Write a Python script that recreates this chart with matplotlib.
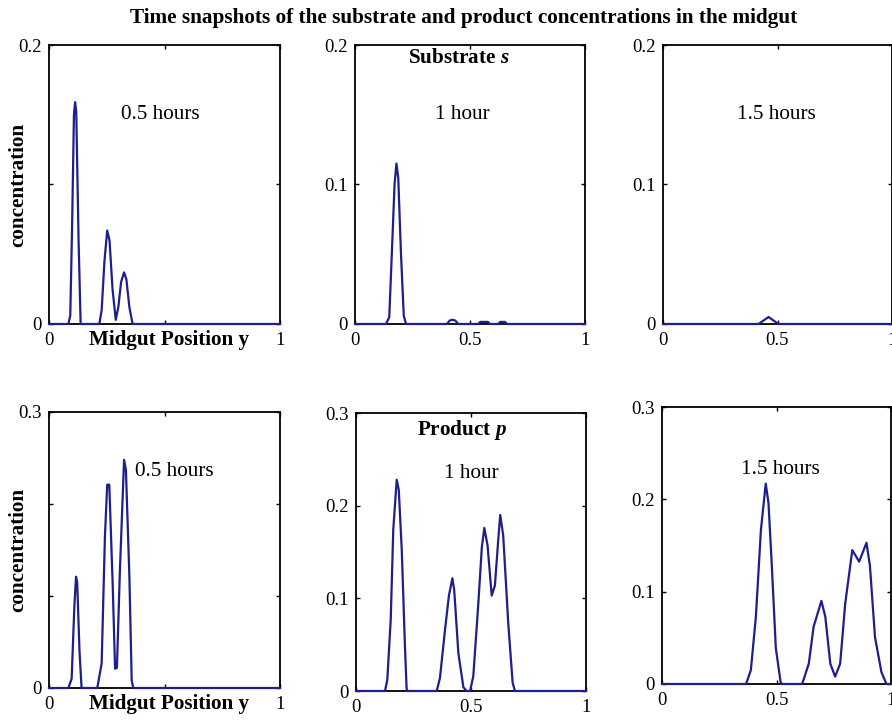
import matplotlib

matplotlib.use("Agg")

import matplotlib.pyplot as plt

plt.rcParams["font.family"] = ["Liberation Serif", "DejaVu Serif"]
plt.rcParams["mathtext.fontset"] = "custom"
plt.rcParams["mathtext.rm"] = "Liberation Serif:bold"
plt.rcParams["mathtext.it"] = "Liberation Serif:italic:bold"

LINE_COLOR = "#1e1e8c"

# substrate s, 0.5 / 1 / 1.5 hours
sub_05_x = [0, 0.084, 0.092, 0.100, 0.108, 0.113, 0.118, 0.128, 0.137, 0.218, 0.228, 0.240,
            0.252, 0.262, 0.275, 0.289, 0.300, 0.312, 0.325, 0.335, 0.348, 0.362, 1]
sub_05_y = [0, 0, 0.006, 0.07, 0.15, 0.159, 0.152, 0.06, 0, 0, 0.01, 0.045,
            0.067, 0.06, 0.025, 0.003, 0.012, 0.03, 0.037, 0.032, 0.012, 0, 0]

sub_10_x = [0, 0.135, 0.149, 0.160, 0.172, 0.180, 0.188, 0.200, 0.212, 0.222, 0.399, 0.412,
            0.424, 0.436, 0.449, 0.535, 0.545, 0.561, 0.577, 0.587, 0.622, 0.632, 0.642,
            0.652, 0.661, 1]
sub_10_y = [0, 0, 0.005, 0.05, 0.10, 0.115, 0.105, 0.05, 0.006, 0, 0, 0.0025,
            0.003, 0.0025, 0, 0, 0.0015, 0.0015, 0.0015, 0, 0, 0.0015, 0.0015,
            0.0015, 0, 0]

sub_15_x = [0, 0.417, 0.461, 0.504, 1]
sub_15_y = [0, 0, 0.005, 0, 0]

# product p, 0.5 / 1 / 1.5 hours
prod_05_x = [0, 0.084, 0.098, 0.110, 0.117, 0.122, 0.132, 0.141, 0.209, 0.228, 0.242, 0.252,
             0.261, 0.276, 0.286, 0.294, 0.307, 0.325, 0.333, 0.348, 0.358, 0.365, 1]
prod_05_y = [0, 0, 0.01, 0.09, 0.121, 0.115, 0.04, 0, 0, 0.027, 0.164, 0.221,
             0.221, 0.110, 0.021, 0.022, 0.128, 0.248, 0.237, 0.121, 0.008, 0, 0]

prod_10_x = [0, 0.126, 0.136, 0.151, 0.162, 0.177, 0.186, 0.199, 0.213, 0.220, 0.223,
             0.351, 0.365, 0.387, 0.404, 0.419, 0.427, 0.445, 0.467, 0.481,
             0.496, 0.510, 0.532, 0.547, 0.558, 0.572, 0.590, 0.604, 0.619, 0.627,
             0.640, 0.662, 0.681, 0.691, 1]
prod_10_y = [0, 0, 0.012, 0.077, 0.174, 0.228, 0.217, 0.152, 0.047, 0.003, 0,
             0, 0.014, 0.066, 0.103, 0.1216, 0.109, 0.041, 0.004, 0,
             0, 0.016, 0.095, 0.155, 0.176, 0.157, 0.103, 0.114, 0.165, 0.19,
             0.168, 0.073, 0.009, 0, 0]

prod_15_x = [0, 0.367, 0.388, 0.410, 0.432, 0.453, 0.465, 0.479, 0.497, 0.518, 0.525,
             0.612, 0.641, 0.662, 0.696, 0.713, 0.735, 0.756, 0.778, 0.800, 0.831,
             0.861, 0.893, 0.908, 0.930, 0.958, 0.980, 1]
prod_15_y = [0, 0, 0.015, 0.073, 0.167, 0.217, 0.196, 0.131, 0.039, 0.002, 0,
             0, 0.022, 0.062, 0.090, 0.073, 0.022, 0.008, 0.022, 0.087, 0.145,
             0.1325, 0.153, 0.128, 0.051, 0.013, 0, 0]

time_labels = ["0.5 hours", "1 hour", "1.5 hours"]

TEXT_SIZE = 15.2
TICK_SIZE = 13.5


def px_axes(fig, left, top, right, bottom, W=892, H=720):
    return fig.add_axes([left / W, 1 - bottom / H, (right - left) / W, (bottom - top) / H])


def style_axes(ax, ymax, ylabels, xlabels):
    ax.set_xlim(0, 1)
    ax.set_ylim(0, ymax)
    ax.set_xticks([0, 0.5, 1])
    ax.set_xticklabels(xlabels)
    yt = [round(0.1 * i, 1) for i in range(len(ylabels))]
    ax.set_yticks(yt)
    ax.set_yticklabels(ylabels)
    ax.tick_params(direction="in", length=3, width=1, top=True, right=True,
                   labelsize=TICK_SIZE, colors="black")
    ax.tick_params(axis="x", pad=6)
    ax.tick_params(axis="y", pad=5)
    for sp in ax.spines.values():
        sp.set_linewidth(1.3)
        sp.set_zorder(1)


fig = plt.figure(figsize=(8.92, 7.2), dpi=100)
fig.patch.set_facecolor("white")

fig.text(0.52, 0.975, "Time snapshots of the substrate and product concentrations in the midgut",
         ha="center", va="center", fontsize=15.3, fontweight="bold")

top_axes = [px_axes(fig, 49, 45, 280, 324), px_axes(fig, 355, 45, 585, 324),
            px_axes(fig, 663, 45, 892, 324)]
bot_axes = [px_axes(fig, 49, 412, 280, 688), px_axes(fig, 356, 413, 586, 691),
            px_axes(fig, 662, 407, 891, 684)]

sub_data = [(sub_05_x, sub_05_y), (sub_10_x, sub_10_y), (sub_15_x, sub_15_y)]
prod_data = [(prod_05_x, prod_05_y), (prod_10_x, prod_10_y), (prod_15_x, prod_15_y)]

for i, (ax, (x, y)) in enumerate(zip(top_axes, sub_data)):
    ax.plot(x, y, color=LINE_COLOR, lw=1.6, clip_on=False, zorder=3)
    if i == 0:
        style_axes(ax, 0.2, ["0", "", "0.2"], ["0", "", "1"])
    else:
        style_axes(ax, 0.2, ["0", "0.1", "0.2"], ["0", "0.5", "1"])

for i, (ax, (x, y)) in enumerate(zip(bot_axes, prod_data)):
    ax.plot(x, y, color=LINE_COLOR, lw=1.6, clip_on=False, zorder=3)
    if i == 0:
        style_axes(ax, 0.3, ["0", "", "", "0.3"], ["0", "", "1"])
    else:
        style_axes(ax, 0.3, ["0", "0.1", "0.2", "0.3"], ["0", "0.5", "1"])

# time labels
top_pos = [(0.482, 0.150), (0.465, 0.150), (0.495, 0.150)]
bot_pos = [(0.542, 0.235), (0.50, 0.235), (0.515, 0.232)]
for ax, (tx, ty), lab in zip(top_axes, top_pos, time_labels):
    ax.text(tx, ty, lab, ha="center", va="center", fontsize=TEXT_SIZE)
for ax, (tx, ty), lab in zip(bot_axes, bot_pos, time_labels):
    ax.text(tx, ty, lab, ha="center", va="center", fontsize=TEXT_SIZE)

top_axes[1].text(0.452, 0.191, r"Substrate $\mathit{s}$", ha="center", va="center",
                 fontsize=TEXT_SIZE, fontweight="bold")
bot_axes[1].text(0.46, 0.282, r"Product $\mathit{p}$", ha="center", va="center",
                 fontsize=TEXT_SIZE, fontweight="bold")

for ax in (top_axes[0], bot_axes[0]):
    ax.set_ylabel("concentration", fontsize=TEXT_SIZE, fontweight="bold")
    ax.yaxis.set_label_coords(-0.134, 0.5)
    ax.set_xlabel("Midgut Position y", fontsize=TEXT_SIZE, fontweight="bold")
    ax.xaxis.set_label_coords(0.52, -0.058)
    ax.xaxis.label.set_va("center")
    ax.yaxis.label.set_va("center")

fig.savefig("out.png", dpi=100, facecolor="white")
